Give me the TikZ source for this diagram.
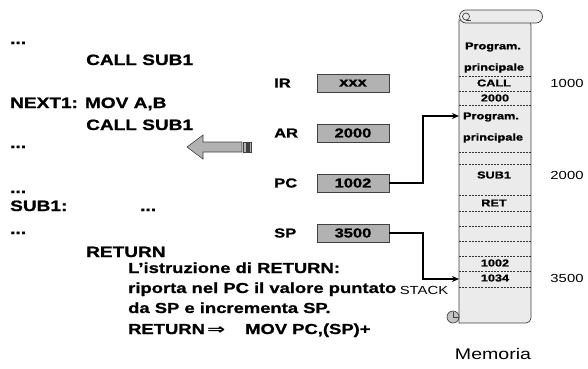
\documentclass[tikz,border=0pt]{standalone}
\usepackage{fontspec}
\setmainfont{Liberation Sans}[UprightFeatures={FakeStretch=1.27}, BoldFeatures={FakeStretch=1.27, FakeBold=1}]
\newfontfamily\symfont{DejaVu Sans}[FakeStretch=1.5, BoldFeatures={FakeStretch=1.5}]
\usetikzlibrary{arrows.meta}
\definecolor{regfill}{HTML}{B2B2B2}
\definecolor{scrollfill}{HTML}{EBEBEB}
\definecolor{curlfill}{HTML}{C4C4C4}
\definecolor{edge}{HTML}{404040}
\begin{document}
\begin{tikzpicture}[x=1pt,y=-1pt,
 code/.style={font=\bfseries\fontsize{15}{17}\selectfont, anchor=base west, inner sep=0},
 reglab/.style={font=\bfseries\fontsize{13}{15}\selectfont, anchor=west, inner sep=0},
 regbox/.style={draw=edge, fill=regfill, minimum width=72pt, minimum height=18pt, inner sep=0, font=\bfseries\fontsize{13}{15}\selectfont},
 memtext/.style={font=\bfseries\fontsize{10}{12}\selectfont, inner sep=0},
 addr/.style={font=\fontsize{11.7}{13}\selectfont, inner sep=0},
 note/.style={font=\bfseries\fontsize{14.5}{16}\selectfont, anchor=base west, inner sep=0},
 conn/.style={line width=1.8pt, -{Stealth[length=7pt,width=6pt]}},
 sepline/.style={draw=black!80, dash pattern=on 2pt off 1.2pt, line width=0.6pt},
 bigarrow/.style={draw=edge, fill=regfill, line width=0.6pt},
]
\useasboundingbox (0,0) rectangle (588,368);

% ---- program code ----
\node[code] (c1) at (10,44) {...};
\node[code] (c2) at (86,65) {CALL SUB1};
\node[code] (c3) at (10,108) {NEXT1: MOV A,B};
\node[code] (c4) at (86,130) {CALL SUB1};
\node[code] (c5) at (10,148) {...};
\node[code] (c6) at (10,193) {...};
\node[code] (c7) at (10,211) {SUB1:};
\node[code] (c8) at (140,211) {...};
\node[code] (c9) at (10,234) {...};
\node[code] (c10) at (86,257) {RETURN};

% ---- striped arrow ----
\draw[bigarrow] (187,147) -- (203,135) -- (203,142) -- (242,142) -- (242,152) -- (203,152) -- (203,159) -- cycle;
\draw[bigarrow] (243.5,142) rectangle (246,152);
\draw[bigarrow] (247,142) rectangle (248.5,152);
\draw[bigarrow] (249.5,142) rectangle (251.5,152);

% ---- registers ----
\node[reglab] (lir) at (274,83) {IR};
\node[reglab] (lar) at (274,133) {AR};
\node[reglab] (lpc) at (274,183) {PC};
\node[reglab] (lsp) at (274,233) {SP};
\node[regbox] (ir) at (353,83) {xxx};
\node[regbox] (ar) at (353,133) {2000};
\node[regbox] (pc) at (353,183) {1002};
\node[regbox] (sp) at (353,233) {3500};

% ---- memory scroll ----
\draw[draw=edge, fill=scrollfill, line width=0.7pt]
  (459,20) -- (459,323) [rounded corners=5pt] -- (531,323) -- (531,20) [sharp corners] -- cycle;
\draw[draw=edge, fill=scrollfill, line width=0.7pt]
  (466,10) -- (536,10) arc[start angle=-90, end angle=90, radius=6.5] -- (466,23)
  arc[start angle=90, end angle=270, radius=6.5] -- cycle;
\draw[draw=edge, line width=0.7pt] (466,16.5) circle[radius=3.5];
\draw[draw=edge, line width=0.7pt] (466,20) -- (471,20);
\draw[draw=edge, fill=curlfill, line width=0.7pt] (453,317) circle[radius=6];
\draw[draw=edge, line width=0.7pt] (453,317) -- (453,312) (453,317) -- (459,317);

\foreach \yy in {76,91,105,152,164,195,211,226,241,256,271,287}
  \draw[sepline] (459,\yy) -- (531,\yy);

\node[memtext] (m1) at (493,47) {Program.};
\node[memtext] (m2) at (494,68) {principale};
\node[memtext] (m3) at (494,83) {CALL};
\node[memtext] (m4) at (495,98) {2000};
\node[memtext] (m5) at (491,117) {Program.};
\node[memtext] (m6) at (493,138) {principale};
\node[memtext] (m7) at (494,175) {SUB1};
\node[memtext] (m8) at (494,203) {RET};
\node[memtext] (m9) at (495,263) {1002};
\node[memtext] (m10) at (495,278) {1034};

\coordinate (prog2) at (459,116);
\coordinate (stk) at (459,279);

\node[addr] (a1) at (567,83) {1000};
\node[addr] (a2) at (567,175) {2000};
\node[addr] (a3) at (567,278) {3500};
\node[addr] (stack) at (424,290) {STACK};
\node[font=\fontsize{15.4}{17}\selectfont, inner sep=0] (mem) at (493,354) {Memoria};

% ---- connectors ----
\draw[conn] (pc.east) -- ++(34,0) |- (prog2);
\draw[conn] (sp.east) -- ++(34,0) |- (stk);

% ---- note ----
\node[note] (n1) at (128,273) {L'istruzione di RETURN:};
\node[note] (n2) at (128,293) {riporta nel PC il valore puntato};
\node[note] (n3) at (128,313) {da SP e incrementa SP.};
\node[note] (n4) at (128,334) {RETURN};
\node[note, font=\symfont\bfseries\fontsize{14.5}{16}\selectfont] (n5) at (207,334) {⇒};
\node[note] (n6) at (245,334) {MOV PC,(SP)+};
\end{tikzpicture}
\end{document}
